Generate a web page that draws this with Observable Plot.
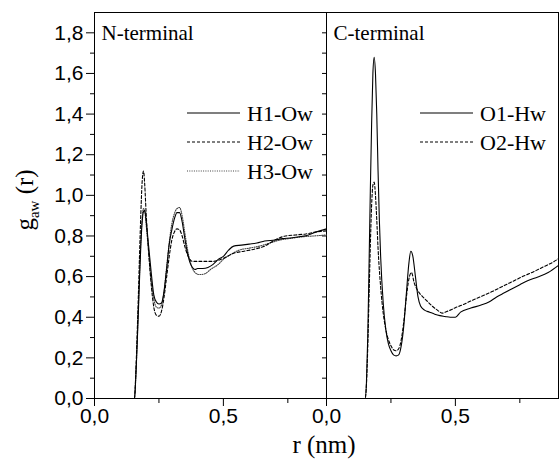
<!DOCTYPE html>
<html><head><meta charset="utf-8">
<script src="https://cdn.jsdelivr.net/npm/d3@7"></script>
<script src="https://cdn.jsdelivr.net/npm/@observablehq/plot@0.6"></script>
<style>body{margin:0;background:#fff}</style>
</head><body><div id="chart"></div>
<script>
// ---- categories / labels ----
const panels = ["N-terminal", "C-terminal"];
const seriesN = ["H1-Ow", "H2-Ow", "H3-Ow"];
const seriesC = ["O1-Hw", "O2-Hw"];
const xTicks = [0, 0.5];
const xMinorTicks = [0.25, 0.75];
const yTicks = [0, 0.2, 0.4, 0.6, 0.8, 1.0, 1.2, 1.4, 1.6, 1.8];
const yMinorTicks = [0.1, 0.3, 0.5, 0.7, 0.9, 1.1, 1.3, 1.5, 1.7];

// ---- N-terminal series ----
const h1R = [0, 0.155, 0.16, 0.165, 0.17, 0.175, 0.18, 0.185, 0.19, 0.195, 0.2, 0.21, 0.22, 0.23, 0.24, 0.25, 0.26, 0.27, 0.28, 0.29, 0.30, 0.31, 0.32, 0.33, 0.34, 0.35, 0.36, 0.37, 0.38, 0.39, 0.40, 0.42, 0.44, 0.46, 0.48, 0.50, 0.52, 0.54, 0.57, 0.60, 0.63, 0.66, 0.70, 0.73, 0.76, 0.80, 0.83, 0.86, 0.90];
const h1G = [0, 0, 0.1, 0.25, 0.42, 0.6, 0.76, 0.87, 0.92, 0.925, 0.88, 0.75, 0.62, 0.51, 0.475, 0.465, 0.47, 0.53, 0.64, 0.76, 0.83, 0.885, 0.915, 0.915, 0.87, 0.79, 0.72, 0.67, 0.645, 0.635, 0.64, 0.64, 0.645, 0.66, 0.685, 0.70, 0.73, 0.75, 0.755, 0.76, 0.765, 0.775, 0.78, 0.787, 0.79, 0.797, 0.805, 0.82, 0.835];

const h2R = [0, 0.155, 0.16, 0.165, 0.17, 0.175, 0.18, 0.185, 0.19, 0.195, 0.2, 0.21, 0.22, 0.23, 0.24, 0.25, 0.26, 0.27, 0.28, 0.29, 0.30, 0.31, 0.32, 0.33, 0.34, 0.35, 0.36, 0.37, 0.38, 0.40, 0.43, 0.46, 0.50, 0.54, 0.58, 0.62, 0.66, 0.70, 0.74, 0.78, 0.82, 0.86, 0.90];
const h2G = [0, 0, 0.12, 0.3, 0.5, 0.72, 0.92, 1.07, 1.12, 1.05, 0.92, 0.72, 0.56, 0.45, 0.41, 0.405, 0.43, 0.5, 0.6, 0.7, 0.78, 0.82, 0.835, 0.83, 0.8, 0.75, 0.71, 0.685, 0.675, 0.675, 0.675, 0.675, 0.69, 0.715, 0.725, 0.735, 0.75, 0.78, 0.80, 0.805, 0.81, 0.82, 0.825];

const h3R = [0, 0.155, 0.16, 0.165, 0.17, 0.175, 0.18, 0.185, 0.19, 0.195, 0.2, 0.21, 0.22, 0.23, 0.24, 0.25, 0.26, 0.27, 0.28, 0.29, 0.30, 0.31, 0.32, 0.33, 0.34, 0.35, 0.36, 0.37, 0.38, 0.39, 0.40, 0.41, 0.43, 0.45, 0.48, 0.50, 0.53, 0.56, 0.60, 0.64, 0.68, 0.72, 0.76, 0.80, 0.85, 0.90];
const h3G = [0, 0, 0.1, 0.26, 0.44, 0.62, 0.78, 0.89, 0.935, 0.92, 0.86, 0.72, 0.58, 0.49, 0.45, 0.445, 0.46, 0.53, 0.65, 0.77, 0.86, 0.91, 0.935, 0.94, 0.9, 0.82, 0.74, 0.68, 0.64, 0.62, 0.612, 0.61, 0.615, 0.635, 0.66, 0.685, 0.71, 0.73, 0.74, 0.75, 0.765, 0.78, 0.788, 0.795, 0.80, 0.805];

// ---- C-terminal series ----
const o1R = [0, 0.15, 0.155, 0.16, 0.165, 0.17, 0.175, 0.18, 0.185, 0.19, 0.195, 0.2, 0.205, 0.21, 0.22, 0.23, 0.24, 0.25, 0.26, 0.27, 0.28, 0.29, 0.30, 0.31, 0.32, 0.327, 0.335, 0.345, 0.355, 0.365, 0.38, 0.40, 0.42, 0.44, 0.46, 0.48, 0.50, 0.52, 0.56, 0.60, 0.63, 0.66, 0.69, 0.72, 0.75, 0.78, 0.82, 0.86, 0.90];
const o1G = [0, 0, 0.08, 0.3, 0.65, 1.02, 1.35, 1.6, 1.68, 1.6, 1.4, 1.12, 0.88, 0.7, 0.47, 0.34, 0.27, 0.235, 0.215, 0.21, 0.215, 0.26, 0.36, 0.52, 0.67, 0.725, 0.7, 0.6, 0.5, 0.455, 0.435, 0.425, 0.415, 0.408, 0.404, 0.40, 0.40, 0.425, 0.445, 0.46, 0.475, 0.50, 0.52, 0.54, 0.56, 0.58, 0.598, 0.62, 0.655];

const o2R = [0, 0.15, 0.155, 0.16, 0.165, 0.17, 0.175, 0.18, 0.185, 0.19, 0.195, 0.2, 0.21, 0.22, 0.23, 0.24, 0.25, 0.26, 0.27, 0.28, 0.29, 0.30, 0.31, 0.32, 0.33, 0.34, 0.35, 0.36, 0.37, 0.39, 0.41, 0.43, 0.45, 0.46, 0.48, 0.50, 0.53, 0.56, 0.60, 0.64, 0.68, 0.72, 0.76, 0.80, 0.84, 0.88, 0.90];
const o2G = [0, 0, 0.07, 0.25, 0.5, 0.75, 0.95, 1.05, 1.065, 1.0, 0.88, 0.74, 0.55, 0.42, 0.34, 0.29, 0.26, 0.24, 0.235, 0.245, 0.29, 0.38, 0.5, 0.59, 0.62, 0.57, 0.54, 0.52, 0.505, 0.48, 0.455, 0.435, 0.42, 0.425, 0.435, 0.447, 0.462, 0.48, 0.502, 0.525, 0.55, 0.575, 0.60, 0.622, 0.647, 0.672, 0.688];

// ---- build table ----
const dashes = {"H1-Ow": null, "H2-Ow": "3,2", "H3-Ow": "1,1.3", "O1-Hw": null, "O2-Hw": "3,2"};
const table = [];
function add(panel, series, rs, gs) { rs.forEach((r, i) => table.push({panel, series, r, g: gs[i]})); }
add(panels[0], seriesN[0], h1R, h1G);
add(panels[0], seriesN[1], h2R, h2G);
add(panels[0], seriesN[2], h3R, h3G);
add(panels[1], seriesC[0], o1R, o1G);
add(panels[1], seriesC[1], o2R, o2G);

const fmt = d => d.toFixed(1).replace(".", ",");
const serif = "Liberation Serif, Times New Roman, serif";

function lineFor(series, extra) {
  return Plot.line(table.filter(d => d.series === series), Object.assign({
    x: "r", y: "g", fx: "panel", stroke: "black", strokeWidth: 1.1, curve: "monotone-x",
    strokeDasharray: dashes[series]
  }, extra || {}));
}

const chart = Plot.plot({
  width: 560, height: 460,
  marginLeft: 93, marginRight: 2, marginTop: 12, marginBottom: 62,
  style: {fontFamily: "Liberation Sans, Arial, sans-serif", fontSize: "21px", background: "white", color: "black"},
  fx: {domain: panels, padding: 0, axis: null, label: null},
  x: {domain: [0, 0.9], label: null},
  y: {domain: [0, 1.9], label: null},
  marks: [
    Plot.frame({stroke: "black", strokeWidth: 1}),
    Plot.axisY({anchor: "left", ticks: yTicks, tickSize: 8, tickPadding: 3, tickFormat: fmt, label: null, fontSize: 21}),
    Plot.axisY({anchor: "left", ticks: yMinorTicks, tickSize: 4, fill: "none", label: null}),
    Plot.axisY({anchor: "right", facetAnchor: "left", ticks: yTicks.concat(yMinorTicks), tickSize: 5, insetRight: 5, fill: "none", label: null}),
    Plot.axisX({ticks: xTicks, tickSize: 8, tickPadding: 2, tickFormat: fmt, label: null, fontSize: 21}),
    Plot.axisX({ticks: xMinorTicks, tickSize: 5, fill: "none", label: null}),
    lineFor("H3-Ow", {stroke: "#444"}),
    lineFor("H2-Ow"),
    lineFor("H1-Ow"),
    lineFor("O2-Hw"),
    lineFor("O1-Hw"),
    Plot.text(panels, {fx: d => d, text: d => d, frameAnchor: "top-left", dx: 7, dy: 13, lineAnchor: "top",
      fontFamily: serif, fontSize: 21, fill: "black"})
  ]
});

document.getElementById("chart").appendChild(chart);

// ---- legends & axis titles ----
const svg = d3.select(chart);
const legends = [
  {names: seriesN, x0: 187, x1: 240, tx: 247},
  {names: seriesC, x0: 420, x1: 473, tx: 480}
];
legends.forEach(L => {
  L.names.forEach((name, i) => {
    const y = 113 + i * 29;
    svg.append("line").attr("x1", L.x0).attr("x2", L.x1).attr("y1", y).attr("y2", y)
      .attr("stroke", name === "H3-Ow" ? "#444" : "black").attr("stroke-width", 1.1)
      .attr("stroke-dasharray", dashes[name]);
    svg.append("text").attr("x", L.tx).attr("y", y + 8).attr("text-anchor", "start")
      .attr("font-family", serif).attr("font-size", 22).attr("fill", "black").text(name);
  });
});

const yl = svg.append("text").attr("transform", "translate(33,200) rotate(-90)")
  .attr("text-anchor", "middle").attr("font-family", serif).attr("font-size", 25).attr("fill", "black");
yl.append("tspan").text("g");
yl.append("tspan").attr("font-size", 15).attr("dy", 6).text("aw");
yl.append("tspan").attr("dy", -6).text(" (r)");

svg.append("text").attr("x", 324).attr("y", 453).attr("text-anchor", "middle")
  .attr("font-family", serif).attr("font-size", 25).attr("fill", "black").text("r (nm)");
</script>
</body></html>
